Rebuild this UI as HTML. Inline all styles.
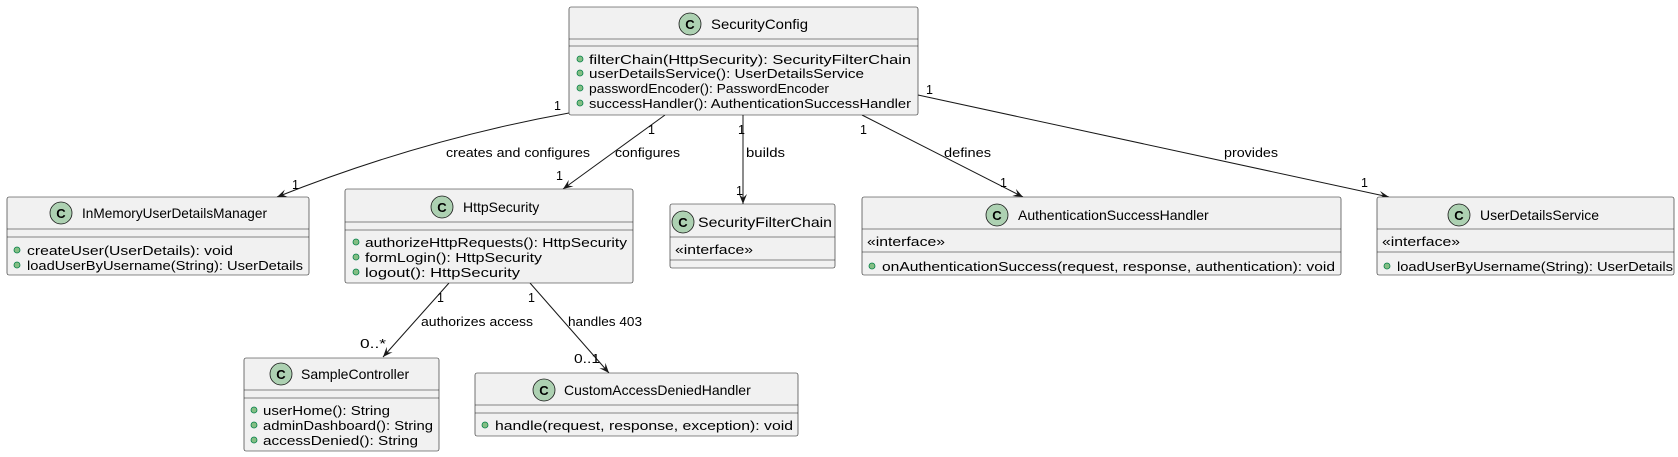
<!DOCTYPE html>
<html><head><meta charset="utf-8"><style>
html,body{margin:0;padding:0;background:#fff;}
svg{display:block;font-family:"Liberation Sans",sans-serif;}
.b{fill:#F1F1F1;stroke:#181818;stroke-width:0.6;}
.s{stroke:#181818;stroke-width:0.6;}
.ic{fill:#ADD1B2;stroke:#181818;stroke-width:0.8;}
.cl{font-size:14px;fill:#000;}
.m{font-size:13px;fill:#000;}
.bu{fill:#84BE84;stroke:#038048;stroke-width:0.8;}
.l{font-size:12.5px;fill:#000;}
.e{stroke:#181818;stroke-width:1;fill:none;marker-end:url(#ah);}
.C{font-size:13px;font-weight:bold;fill:#000;}
</style></head><body>
<svg width="1678" height="457" viewBox="0 0 1678 457" xmlns="http://www.w3.org/2000/svg">
<defs><marker id="ah" markerWidth="12" markerHeight="10" refX="10" refY="4" orient="auto" markerUnits="userSpaceOnUse"><path d="M0,0 L10,4 L0,8 L4,4 Z" fill="#181818"/></marker></defs>

<!-- edges -->
<path class="e" d="M569,113 Q420,140 277,197"/>
<path class="e" d="M665,115 L563,189"/>
<path class="e" d="M743,115 L743,204"/>
<path class="e" d="M862,115 L1023,197"/>
<path class="e" d="M918,95 L1389,197"/>
<path class="e" d="M449,283 L383,357"/>
<path class="e" d="M530,283 L609,373"/>

<g class="l" lengthAdjust="spacingAndGlyphs">
<text x="554" y="110">1</text><text x="292" y="189">1</text><text x="446" y="157" textLength="144" lengthAdjust="spacingAndGlyphs">creates and configures</text>
<text x="648" y="134">1</text><text x="615" y="157" textLength="65" lengthAdjust="spacingAndGlyphs">configures</text><text x="556" y="180">1</text>
<text x="738" y="134">1</text><text x="746" y="157" textLength="39" lengthAdjust="spacingAndGlyphs">builds</text><text x="736" y="195">1</text>
<text x="860" y="134">1</text><text x="944" y="157" textLength="47" lengthAdjust="spacingAndGlyphs">defines</text><text x="1000" y="187">1</text>
<text x="926" y="94">1</text><text x="1224" y="157" textLength="54" lengthAdjust="spacingAndGlyphs">provides</text><text x="1361" y="187">1</text>
<text x="437" y="302">1</text><text x="421" y="326" textLength="112" lengthAdjust="spacingAndGlyphs">authorizes access</text><text x="360" y="348" textLength="26" lengthAdjust="spacingAndGlyphs">0..*</text>
<text x="528" y="302">1</text><text x="568" y="326" textLength="74" lengthAdjust="spacingAndGlyphs">handles 403</text><text x="574" y="363" textLength="26" lengthAdjust="spacingAndGlyphs">0..1</text>
</g>

<!-- SecurityConfig -->
<rect class="b" x="569" y="7" width="349" height="108" rx="2"/>
<line class="s" x1="569" y1="39" x2="918" y2="39"/><line class="s" x1="569" y1="46" x2="918" y2="46"/>
<circle class="ic" cx="690" cy="24" r="11"/><text class="C" x="690" y="29" text-anchor="middle">C</text>
<text class="cl" x="711" y="29" textLength="97" lengthAdjust="spacingAndGlyphs">SecurityConfig</text>
<circle class="bu" cx="580" cy="59" r="3"/><text class="m" x="589" y="64" textLength="322" lengthAdjust="spacingAndGlyphs">filterChain(HttpSecurity): SecurityFilterChain</text>
<circle class="bu" cx="580" cy="73" r="3"/><text class="m" x="589" y="78" textLength="275" lengthAdjust="spacingAndGlyphs">userDetailsService(): UserDetailsService</text>
<circle class="bu" cx="580" cy="88" r="3"/><text class="m" x="589" y="93" textLength="240" lengthAdjust="spacingAndGlyphs">passwordEncoder(): PasswordEncoder</text>
<circle class="bu" cx="580" cy="103" r="3"/><text class="m" x="589" y="108" textLength="322" lengthAdjust="spacingAndGlyphs">successHandler(): AuthenticationSuccessHandler</text>

<!-- InMemory -->
<rect class="b" x="7" y="197" width="302" height="78" rx="2"/>
<line class="s" x1="7" y1="229" x2="309" y2="229"/><line class="s" x1="7" y1="237" x2="309" y2="237"/>
<circle class="ic" cx="61" cy="213" r="11"/><text class="C" x="61" y="218" text-anchor="middle">C</text>
<text class="cl" x="82" y="218" textLength="185" lengthAdjust="spacingAndGlyphs">InMemoryUserDetailsManager</text>
<circle class="bu" cx="17" cy="250" r="3"/><text class="m" x="27" y="255" textLength="206" lengthAdjust="spacingAndGlyphs">createUser(UserDetails): void</text>
<circle class="bu" cx="17" cy="265" r="3"/><text class="m" x="27" y="270" textLength="276" lengthAdjust="spacingAndGlyphs">loadUserByUsername(String): UserDetails</text>

<!-- HttpSecurity -->
<rect class="b" x="345" y="189" width="288" height="94" rx="2"/>
<line class="s" x1="345" y1="222" x2="633" y2="222"/><line class="s" x1="345" y1="230" x2="633" y2="230"/>
<circle class="ic" cx="442" cy="207" r="11"/><text class="C" x="442" y="212" text-anchor="middle">C</text>
<text class="cl" x="463" y="212">HttpSecurity</text>
<circle class="bu" cx="356" cy="242" r="3"/><text class="m" x="365" y="247" textLength="262" lengthAdjust="spacingAndGlyphs">authorizeHttpRequests(): HttpSecurity</text>
<circle class="bu" cx="356" cy="257" r="3"/><text class="m" x="365" y="262" textLength="177" lengthAdjust="spacingAndGlyphs">formLogin(): HttpSecurity</text>
<circle class="bu" cx="356" cy="272" r="3"/><text class="m" x="365" y="277" textLength="155" lengthAdjust="spacingAndGlyphs">logout(): HttpSecurity</text>

<!-- SecurityFilterChain -->
<rect class="b" x="670" y="204" width="165" height="64" rx="2"/>
<line class="s" x1="670" y1="237" x2="835" y2="237"/><line class="s" x1="670" y1="260" x2="835" y2="260"/>
<circle class="ic" cx="683" cy="222" r="11"/><text class="C" x="683" y="227" text-anchor="middle">C</text>
<text class="cl" x="698" y="227" textLength="134" lengthAdjust="spacingAndGlyphs">SecurityFilterChain</text>
<text class="m" x="675" y="254" textLength="78" lengthAdjust="spacingAndGlyphs">«interface»</text>

<!-- SampleController -->
<rect class="b" x="244" y="358" width="195" height="93" rx="2"/>
<line class="s" x1="244" y1="390" x2="439" y2="390"/><line class="s" x1="244" y1="398" x2="439" y2="398"/>
<circle class="ic" cx="281" cy="374" r="11"/><text class="C" x="281" y="379" text-anchor="middle">C</text>
<text class="cl" x="301" y="379">SampleController</text>
<circle class="bu" cx="254" cy="410" r="3"/><text class="m" x="263" y="415" textLength="127" lengthAdjust="spacingAndGlyphs">userHome(): String</text>
<circle class="bu" cx="254" cy="425" r="3"/><text class="m" x="263" y="430" textLength="170" lengthAdjust="spacingAndGlyphs">adminDashboard(): String</text>
<circle class="bu" cx="254" cy="440" r="3"/><text class="m" x="263" y="445" textLength="155" lengthAdjust="spacingAndGlyphs">accessDenied(): String</text>

<!-- CustomAccessDeniedHandler -->
<rect class="b" x="475" y="373" width="323" height="63" rx="2"/>
<line class="s" x1="475" y1="405" x2="798" y2="405"/><line class="s" x1="475" y1="413" x2="798" y2="413"/>
<circle class="ic" cx="544" cy="390" r="11"/><text class="C" x="544" y="395" text-anchor="middle">C</text>
<text class="cl" x="564" y="395">CustomAccessDeniedHandler</text>
<circle class="bu" cx="485" cy="425" r="3"/><text class="m" x="495" y="430" textLength="298" lengthAdjust="spacingAndGlyphs">handle(request, response, exception): void</text>

<!-- AuthenticationSuccessHandler -->
<rect class="b" x="862" y="197" width="479" height="78" rx="2"/>
<line class="s" x1="862" y1="229" x2="1341" y2="229"/><line class="s" x1="862" y1="252" x2="1341" y2="252"/>
<circle class="ic" cx="997" cy="215" r="11"/><text class="C" x="997" y="220" text-anchor="middle">C</text>
<text class="cl" x="1018" y="220">AuthenticationSuccessHandler</text>
<text class="m" x="867" y="246" textLength="78" lengthAdjust="spacingAndGlyphs">«interface»</text>
<circle class="bu" cx="872" cy="266" r="3"/><text class="m" x="882" y="271" textLength="453" lengthAdjust="spacingAndGlyphs">onAuthenticationSuccess(request, response, authentication): void</text>

<!-- UserDetailsService -->
<rect class="b" x="1377" y="197" width="297" height="78" rx="2"/>
<line class="s" x1="1377" y1="229" x2="1674" y2="229"/><line class="s" x1="1377" y1="252" x2="1674" y2="252"/>
<circle class="ic" cx="1459" cy="215" r="11"/><text class="C" x="1459" y="220" text-anchor="middle">C</text>
<text class="cl" x="1480" y="220">UserDetailsService</text>
<text class="m" x="1382" y="246" textLength="78" lengthAdjust="spacingAndGlyphs">«interface»</text>
<circle class="bu" cx="1387" cy="266" r="3"/><text class="m" x="1397" y="271" textLength="276" lengthAdjust="spacingAndGlyphs">loadUserByUsername(String): UserDetails</text>
</svg>
</body></html>
